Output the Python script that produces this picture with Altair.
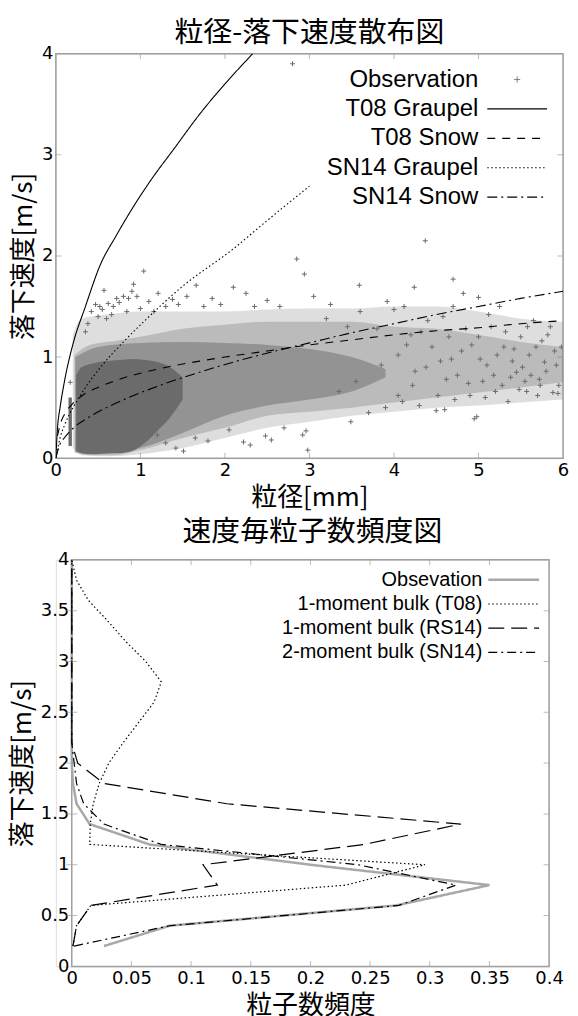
import altair as alt
import pandas as pd

# ================= top panel : 粒径-落下速度散布図 =================
top_x_domain = [0, 6]
top_y_domain = [0, 4]
top_x_ticks = [0, 1, 2, 3, 4, 5, 6]
top_y_ticks = [0, 1, 2, 3, 4]

# observation cloud, density bands (D [mm], v [m/s])
sparse_d = [0.2, 0.3, 0.6, 1.0, 1.5, 2.0, 2.5, 3.0, 3.5, 4.0, 4.5, 5.0, 5.5, 6.0]
sparse_lo = [0.10, 0.03, 0.02, 0.04, 0.10, 0.20, 0.30, 0.36, 0.42, 0.46, 0.50, 0.52, 0.55, 0.58]
sparse_hi = [1.22, 1.38, 1.42, 1.45, 1.45, 1.45, 1.47, 1.48, 1.48, 1.50, 1.50, 1.45, 1.38, 1.35]

medium_d = [0.22, 0.4, 0.7, 1.0, 1.5, 2.0, 2.5, 3.0, 3.5, 4.0, 4.5, 5.0, 5.5, 6.0]
medium_lo = [0.06, 0.03, 0.03, 0.08, 0.20, 0.30, 0.42, 0.46, 0.50, 0.55, 0.60, 0.65, 0.70, 0.75]
medium_hi = [1.02, 1.12, 1.16, 1.20, 1.28, 1.32, 1.35, 1.35, 1.35, 1.30, 1.28, 1.22, 1.15, 1.10]

dense_d = [0.23, 0.5, 1.0, 1.5, 2.0, 2.5, 3.0, 3.5, 3.9]
dense_lo = [0.06, 0.04, 0.10, 0.25, 0.42, 0.52, 0.58, 0.66, 0.80]
dense_hi = [1.00, 1.10, 1.14, 1.15, 1.14, 1.12, 1.08, 1.00, 0.88]

core_d = [0.24, 0.3, 0.45, 0.6, 0.75, 0.9, 1.05, 1.2, 1.35, 1.5]
core_lo = [0.08, 0.05, 0.04, 0.05, 0.05, 0.07, 0.15, 0.27, 0.40, 0.58]
core_hi = [0.82, 0.90, 0.94, 0.96, 0.97, 0.98, 0.97, 0.95, 0.90, 0.80]

column_d0 = [0.15]
column_d1 = [0.19]
column_lo = [0.12]
column_hi = [0.60]

# single observations outside / at the rim of the dense cloud
pts_d = [0.17, 0.35, 0.38, 0.42, 0.47, 0.5, 0.52, 0.55, 0.57, 0.6, 0.62, 0.66, 0.68, 0.72,
         0.75, 0.8, 0.84, 0.86, 0.9, 0.92, 0.96, 1.0, 1.04, 1.1, 1.16, 1.21, 1.3, 1.38, 1.45,
         1.55, 1.66, 1.75, 1.85, 1.95, 2.1, 2.25, 2.35, 2.5, 2.65, 2.85, 2.94, 3.05, 3.25, 2.8,
         4.37, 3.2, 3.45, 3.6, 3.7, 3.8, 3.9, 4.0, 4.1, 4.2, 4.3, 4.4, 4.5, 4.6, 4.7, 4.8, 4.9,
         4.95, 5.0, 5.05, 5.1, 5.15, 5.2, 5.3, 5.35, 5.4, 5.5, 5.55, 5.6, 5.7, 5.75, 5.8, 5.9,
         5.95, 5.25, 5.65, 4.75, 4.55, 4.25, 4.05, 3.85, 3.55, 3.35, 5.45, 5.85, 4.65, 1.2,
         1.42, 1.51, 1.8, 2.3, 2.48, 2.7, 2.92, 2.98, 3.49, 1.65, 2.05, 1.3, 2.22, 2.55, 2.96,
         4.05, 4.15, 4.22, 4.32, 4.38, 4.45, 4.52, 4.58, 4.62, 4.68, 4.72, 4.85, 4.88, 4.92,
         5.02, 5.08, 5.12, 5.18, 5.22, 5.28, 5.32, 5.38, 5.42, 5.48, 5.52, 5.58, 5.62, 5.68,
         5.72, 5.78, 5.82, 5.88, 5.92, 5.98, 4.7, 3.59, 4.24, 4.82, 5.0, 4.98, 5.57, 5.94,
         5.73, 4.12, 3.92]
pts_v = [0.75, 1.25, 1.33, 1.45, 1.52, 1.4, 1.5, 1.47, 1.66, 1.38, 1.53, 1.42, 1.5, 1.58,
         1.54, 1.6, 1.45, 1.58, 1.65, 1.72, 1.6, 1.48, 1.85, 1.55, 1.45, 1.63, 1.5, 1.57, 1.52,
         1.6, 1.71, 1.5, 1.58, 1.52, 1.69, 1.63, 1.5, 1.56, 1.5, 1.97, 1.82, 1.6, 1.52, 3.9,
         2.15, 1.38, 1.3, 1.45, 0.45, 1.28, 0.5, 1.47, 0.56, 1.22, 0.52, 1.36, 0.47, 0.48, 1.5,
         1.06, 0.62, 0.39, 1.2, 0.76, 0.92, 1.3, 0.66, 1.1, 0.56, 0.96, 1.2, 0.76, 1.02, 0.62,
         1.16, 0.86, 1.06, 0.72, 1.5, 1.36, 0.82, 0.96, 0.86, 1.02, 0.92, 0.76, 0.66, 0.85,
         1.3, 1.2, 0.23, 0.1, 0.07, 0.17, 0.13, 0.22, 0.3, 0.23, 0.08, 0.36, 0.2, 0.28, 0.15,
         0.16, 0.18, 0.27,
         0.62, 1.12, 0.72, 1.25, 0.9, 1.1, 0.62, 1.4, 0.78, 0.98, 0.58, 1.28, 0.74, 1.12,
         0.98, 0.6, 1.42, 0.82, 1.02, 0.72, 1.25, 0.8, 1.08, 0.68, 0.9, 1.3, 0.82, 1.1,
         0.78, 0.95, 1.22, 0.65, 0.92, 1.1, 1.77, 1.71, 1.69, 1.63, 1.59, 0.41, 0.66, 0.64,
         0.72, 1.5, 1.55]

# fall-speed relations, points
t08g_d = [0, 0.02, 0.05, 0.1, 0.2, 0.35, 0.53, 0.7, 0.92, 1.15, 1.39, 1.7, 2.0, 2.33]
t08g_v = [0, 0.30, 0.50, 0.75, 1.12, 1.50, 1.92, 2.18, 2.49, 2.78, 3.05, 3.40, 3.70, 4.0]
t08s_d = [0.02, 0.05, 0.1, 0.2, 0.33, 0.5, 0.75, 1.0, 1.31, 1.7, 2.0, 2.5, 3.0, 3.5, 4.0,
          4.5, 5.0, 5.5, 6.0]
t08s_v = [0.22, 0.33, 0.43, 0.54, 0.63, 0.70, 0.78, 0.84, 0.90, 0.96, 1.00, 1.06, 1.12,
          1.17, 1.22, 1.26, 1.29, 1.33, 1.36]
sn14g_d = [0, 0.05, 0.1, 0.29, 0.53, 0.8, 1.04, 1.5, 2.1, 2.5, 3.0]
sn14g_v = [0, 0.20, 0.32, 0.62, 0.90, 1.15, 1.35, 1.70, 2.07, 2.35, 2.69]
sn14s_d = [0, 0.05, 0.1, 0.21, 0.4, 0.6, 0.92, 1.3, 1.7, 2.1, 2.6, 3.0, 3.5, 4.0, 4.5,
           5.0, 5.5, 6.0]
sn14s_v = [0, 0.14, 0.20, 0.30, 0.41, 0.50, 0.62, 0.74, 0.85, 0.95, 1.06, 1.14, 1.24,
           1.33, 1.42, 1.50, 1.58, 1.65]

top_series = ["Observation", "T08 Graupel", "T08 Snow", "SN14 Graupel", "SN14 Snow"]
top_dashes = [[1, 0], [1, 0], [8, 7], [1.5, 2.5], [10, 4, 2, 4]]
top_colors = ["#6b6b6b", "black", "black", "black", "black"]

# ================= bottom panel : 速度毎粒子数頻度図 =================
bot_x_domain = [0, 0.4]
bot_y_domain = [0, 4]
bot_x_ticks = [0, 0.05, 0.1, 0.15, 0.2, 0.25, 0.3, 0.35, 0.4]
bot_y_ticks = [0, 0.5, 1, 1.5, 2, 2.5, 3, 3.5, 4]

bins_v = [0.2, 0.4, 0.6, 0.8, 1.0, 1.2, 1.4, 1.6, 1.8, 2.0,
          2.2, 2.4, 2.6, 2.8, 3.0, 3.2, 3.4, 3.6, 3.8, 4.0]
freq_obs = [0.027, 0.082, 0.272, 0.350, 0.200, 0.065, 0.015, 0.004, 0.001, 0.0,
            0.0, 0.0, 0.0, 0.0, 0.0, 0.0, 0.0, 0.0, 0.0, 0.0]
freq_t08 = [0.001, 0.004, 0.016, 0.230, 0.296, 0.015, 0.0155, 0.018, 0.023, 0.031,
            0.043, 0.056, 0.069, 0.075, 0.062, 0.045, 0.030, 0.014, 0.004, 0.0]
freq_rs14 = [0.001, 0.004, 0.016, 0.122, 0.110, 0.245, 0.326, 0.130, 0.027, 0.005,
             0.0, 0.0, 0.0, 0.0, 0.0, 0.0, 0.0, 0.0, 0.0, 0.0]
freq_sn14 = [0.002, 0.082, 0.274, 0.322, 0.240, 0.075, 0.027, 0.010, 0.004, 0.002,
             0.0, 0.0, 0.0, 0.0, 0.0, 0.0, 0.0, 0.0, 0.0, 0.0]

bot_series = ["Obsevation", "1-moment bulk (T08)", "1-moment bulk (RS14)", "2-moment bulk (SN14)"]
bot_dashes = [[1, 0], [1.5, 2.5], [16, 7], [9, 4, 2, 4]]
bot_colors = ["#a8a8a8", "black", "black", "black"]
bot_widths = [2.5, 1.2, 1.2, 1.2]

# ================= styling =================
GRAY = "#6b6b6b"
FRAME = "#a0a0a0"
TICK_FONT = "DejaVu Sans"
CJK = "Noto Sans CJK JP"
LEG_FONT = "Liberation Sans"
CROSS = "M-0.5,0H0.5M0,-0.5V0.5"


def axis(values, title, **kw):
    return alt.Axis(values=values, title=title, grid=False, domain=False, ticks=False,
                    labelFont=TICK_FONT, labelFontSize=18, labelColor="black",
                    labelPadding=3, format="~g", labelFlush=False, labelOverlap=False,
                    titleFont=CJK, titleFontSize=26, titleFontWeight="normal",
                    titleColor="black", titlePadding=5, **kw)


def tx(field):
    return alt.X(field, type="quantitative",
                 scale=alt.Scale(domain=top_x_domain, nice=False, zero=False),
                 axis=axis(top_x_ticks, "粒径[mm]"))


def ty(field):
    return alt.Y(field, type="quantitative",
                 scale=alt.Scale(domain=top_y_domain, nice=False, zero=False),
                 axis=axis(top_y_ticks, "落下速度[m/s]"))


TOP_W, TOP_H = 509, 406
BOT_W, BOT_H = 495, 408
BOT_SHIFT = 16


def bx(field):
    return alt.X(field, type="quantitative",
                 scale=alt.Scale(domain=bot_x_domain, nice=False, zero=False,
                                 range=[BOT_SHIFT, BOT_W]),
                 axis=axis(bot_x_ticks, "粒子数頻度"))


def by(field):
    return alt.Y(field, type="quantitative",
                 scale=alt.Scale(domain=bot_y_domain, nice=False, zero=False),
                 axis=axis(bot_y_ticks, "落下速度[m/s]", offset=-BOT_SHIFT))


def pick(first, a, b):
    """per-entry legend expression: value a for the first series, b otherwise"""
    qa = f"'{a}'" if isinstance(a, str) else str(a)
    qb = f"'{b}'" if isinstance(b, str) else str(b)
    return {"expr": f"datum.value === '{first}' ? {qa} : {qb}"}


def legend_layer(df, xenc, yenc, series, dashes, colors, legend):
    # carries only the legend (no marks drawn): dash scale + colour scale
    return alt.Chart(df).transform_filter("false").mark_line().encode(
        x=xenc, y=yenc,
        color=alt.Color("series:N", scale=alt.Scale(domain=series[::-1], range=colors[::-1]),
                        legend=None),
        strokeDash=alt.StrokeDash("series:N", scale=alt.Scale(domain=series, range=dashes),
                                  legend=legend))


def frame_and_ticks(xd, yd, xt, yt, xenc, yenc):
    """gnuplot-style frame with short inward tick marks on all four edges"""
    frame = alt.Chart(pd.DataFrame({"x0": [xd[0]], "x1": [xd[1]], "y0": [yd[0]], "y1": [yd[1]]})
                      ).mark_rect(fillOpacity=0, stroke=FRAME, strokeWidth=1.5).encode(
        x=xenc("x0"), x2="x1", y=yenc("y0"), y2="y1")
    inner_x = xt[1:-1]
    inner_y = yt[1:-1]
    tx_df = pd.DataFrame({"x": inner_x * 2, "y": [yd[0]] * len(inner_x) + [yd[1]] * len(inner_x)})
    ty_df = pd.DataFrame({"x": [xd[0]] * len(inner_y) + [xd[1]] * len(inner_y), "y": inner_y * 2})
    xticks = alt.Chart(tx_df).mark_tick(orient="vertical", size=11, thickness=1, color=FRAME,
                                        clip=True).encode(x=xenc("x"), y=yenc("y"))
    yticks = alt.Chart(ty_df).mark_tick(orient="horizontal", size=11, thickness=1, color=FRAME,
                                        clip=True).encode(x=xenc("x"), y=yenc("y"))
    return [frame, xticks, yticks]


# ---------- top chart ----------
def band(d, lo, hi, opacity):
    df = pd.DataFrame({"d": d, "lo": lo, "hi": hi})
    return alt.Chart(df).mark_area(color=GRAY, opacity=opacity, clip=True,
                                   interpolate="monotone").encode(
        x=tx("d"), y=ty("lo"), y2="hi")


column = alt.Chart(pd.DataFrame({"d0": column_d0, "d1": column_d1,
                                 "lo": column_lo, "hi": column_hi})).mark_rect(
    color=GRAY).encode(x=tx("d0"), x2="d1", y=ty("lo"), y2="hi")

points = alt.Chart(pd.DataFrame({"d": pts_d, "v": pts_v})).mark_point(
    shape=CROSS, size=100, filled=False, color=GRAY, strokeWidth=1, opacity=1, clip=True
).encode(x=tx("d"), y=ty("v"))

curves = [("T08 Graupel", t08g_d, t08g_v), ("T08 Snow", t08s_d, t08s_v),
          ("SN14 Graupel", sn14g_d, sn14g_v), ("SN14 Snow", sn14s_d, sn14s_v)]
top_line_layers = []
rows = []
for name, ds, vs in curves:
    df = pd.DataFrame({"series": name, "d": ds, "v": vs, "i": range(len(ds))})
    rows.append(df)
    dash = top_dashes[top_series.index(name)]
    top_line_layers.append(
        alt.Chart(df).mark_line(color="black", strokeWidth=1.1, strokeDash=dash, clip=True,
                                interpolate="monotone").encode(x=tx("d"), y=ty("v"), order="i:Q"))
top_lines_df = pd.concat(rows, ignore_index=True)

top_legend = alt.Legend(
    title=None, orient="none", legendX=451, legendY=14, padding=0,
    labelFont=LEG_FONT, labelFontSize=24, labelColor="black", labelAlign="right",
    labelOffset={"expr": "-51"}, labelLimit=400,
    symbolType=pick("Observation", CROSS, "M-5,0H5"), symbolSize=144,
    symbolStrokeWidth=pick("Observation", 1, 1.2),
    symbolStrokeColor=pick("Observation", GRAY, "black"),
    rowPadding=5.5)

top = alt.layer(
    *frame_and_ticks(top_x_domain, top_y_domain, top_x_ticks, top_y_ticks, tx, ty),
    band(sparse_d, sparse_lo, sparse_hi, 0.22),
    band(medium_d, medium_lo, medium_hi, 0.3),
    band(dense_d, dense_lo, dense_hi, 0.5),
    band(core_d, core_lo, core_hi, 1.0),
    column, points, *top_line_layers,
    legend_layer(top_lines_df, tx("d"), ty("v"), top_series, top_dashes, top_colors, top_legend)
).properties(
    width=TOP_W, height=TOP_H,
    title=alt.TitleParams("粒径-落下速度散布図", font=CJK, fontSize=29, fontWeight="normal",
                          color="black", offset={"expr": "-3"}, anchor="middle"))

# ---------- bottom chart ----------
bot_layers = []
rows = []
for k, (name, fs) in enumerate(zip(bot_series, [freq_obs, freq_t08, freq_rs14, freq_sn14])):
    df = pd.DataFrame({"series": name, "f": fs, "v": bins_v, "i": range(len(bins_v))})
    rows.append(df)
    bot_layers.append(
        alt.Chart(df).mark_line(color=bot_colors[k], strokeWidth=bot_widths[k],
                                strokeDash=bot_dashes[k], clip=True).encode(
            x=bx("f"), y=by("v"), order="i:Q"))
bot_df = pd.concat(rows, ignore_index=True)

bot_legend = alt.Legend(
    title=None, orient="none", legendX=449.5, legendY=10, padding=0,
    labelFont=LEG_FONT, labelFontSize=20, labelColor="black", labelAlign="right",
    labelOffset={"expr": "-41.5"}, labelLimit=400,
    symbolType="M-4.25,0H4.25", symbolSize=144,
    symbolStrokeWidth=pick("Obsevation", 2.5, 1.2),
    symbolStrokeColor=pick("Obsevation", "#a8a8a8", "black"),
    rowPadding=4.3)

bottom = alt.layer(
    *frame_and_ticks(bot_x_domain, bot_y_domain, bot_x_ticks, bot_y_ticks, bx, by),
    *bot_layers,
    legend_layer(bot_df, bx("f"), by("v"), bot_series, bot_dashes, bot_colors, bot_legend)
).properties(
    width=BOT_W, height=BOT_H,
    title=alt.TitleParams("速度毎粒子数頻度図", font=CJK, fontSize=29, fontWeight="normal",
                          color="black", offset=4, anchor="middle", dx=10))

chart = alt.vconcat(top, bottom, spacing=6).resolve_scale(
    color="independent", strokeDash="independent"
).resolve_legend(
    color="independent", strokeDash="independent"
).properties(
    padding={"left": 0, "top": 8, "right": 0, "bottom": 0}
).configure_view(stroke="transparent").configure(background="white")

chart.save("out.html", embed_options={"renderer": "svg", "actions": False})
